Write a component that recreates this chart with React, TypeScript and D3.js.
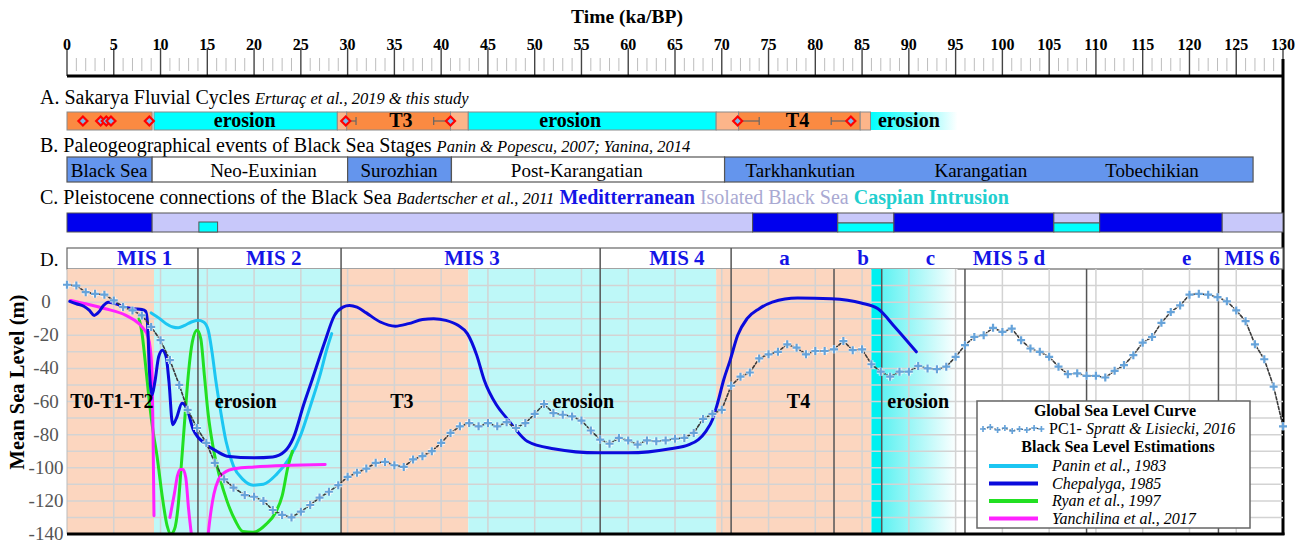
import React from "react";
import * as d3 from "d3";

const W = 1312;
const H = 544;
const SERIF = "Liberation Serif, Tinos, Times New Roman, Times, serif";

// Time axis (ka BP) and sea-level domain (m)
const TIME_DOMAIN: [number, number] = [0, 130];
const LEVEL_DOMAIN: [number, number] = [-140, 20];
const LEVEL_TICKS = [0, -20, -40, -60, -80, -100, -120, -140];

// Global sea level curve PC1 (Spratt & Lisiecki, 2016): [ka, m]
const pc1: [number, number][] = [
  [0, 10.5], [1, 10], [2, 6], [3, 5], [4, 4.5], [5, 1], [6, -3], [7, -5], [8, -8], [9, -15],
  [10, -23], [11, -35], [12, -50], [12.9, -65], [13.9, -76], [14.9, -85], [15.8, -97], [16.8, -107],
  [17.8, -112], [19, -116.5], [20, -117.5], [21, -120], [22, -125.5], [23, -128.5], [24, -130],
  [25, -126.5], [26, -122.5], [27, -118], [28, -114.5], [29, -110.5], [30, -105.5], [31, -103],
  [32, -100.5], [33, -97], [34, -96.5], [35, -98.5], [36, -99.5], [37, -95], [38, -93], [39, -90],
  [40, -85], [41, -79], [42, -75], [43, -73], [44, -75], [45, -73], [46, -75], [47, -72.5], [48, -76],
  [49, -73], [50, -67.5], [51, -61.5], [52, -67], [53, -68], [54, -69], [55, -71.5], [56, -77.5],
  [57, -83], [58, -85.5], [59, -82], [60, -83.5], [61, -86], [62, -83.5], [63, -84], [64, -83.5],
  [65, -82.5], [66, -82], [67, -79], [68, -70.5], [69, -67.5], [70, -65], [71, -50.5], [72, -45],
  [73, -42.5], [74, -34], [75, -31.5], [76, -30], [77, -25.5], [78, -27.5], [79, -31.5], [80, -29.5],
  [81, -29.5], [82, -28.5], [83, -23.5], [84, -29], [85, -28.5], [86, -37.5], [87, -42], [88, -45],
  [89, -42], [90, -42], [91, -38.5], [92, -40], [93, -40.5], [94, -39], [95, -33], [96, -26],
  [97, -21], [98, -20], [99, -15.5], [100, -18], [101, -16], [102, -23], [103, -28], [104, -30],
  [105, -33], [106, -39], [107, -43.5], [108, -43], [109, -44.5], [110, -44.5], [111, -45.5],
  [112, -41.5], [113, -38], [114, -32], [115, -24.5], [116, -21], [117, -12.5], [118, -6], [119, -2],
  [120, 4.5], [121, 5], [122, 4.5], [123, 3], [124, 0.5], [125, -5], [126, -11.5], [127, -25.5],
  [128, -34.5], [129, -51], [130, -75],
];

// Black Sea level estimations: [ka, m]
const panin: [number, number][] = [
  [9.0, -6.5], [9.8, -9.5], [10.6, -13], [11.3, -15], [11.9, -15.5], [12.6, -14], [13.3, -12],
  [14.0, -11], [14.6, -12], [15.1, -17], [15.5, -30], [15.9, -47], [16.4, -65], [17.0, -84],
  [17.8, -99], [18.8, -107], [19.9, -110.5], [21.0, -110], [22.4, -104], [23.8, -94], [25.0, -80],
  [26.0, -63], [27.0, -45], [27.8, -28], [28.3, -19],
];

const chepalyga: [number, number][] = [
  [0.3, 0.5], [1.0, -1], [1.8, -2.5], [2.4, -5], [2.9, -8], [3.4, -6], [3.9, -2], [4.4, 0],
  [5.2, -1], [6.2, -3], [7.2, -4], [8.0, -4.5], [8.4, -5.5], [8.6, -12], [8.8, -40], [9.1, -56],
  [9.4, -48], [9.8, -33], [10.2, -29], [10.6, -33], [10.9, -48], [11.3, -74], [11.7, -70],
  [12.3, -61], [12.8, -64], [13.5, -77], [14.9, -86], [16, -90], [17.1, -93], [20, -94], [22, -93.5],
  [23.3, -90], [24.2, -82], [25.3, -62], [26.2, -47], [27.5, -25], [28.6, -8], [29.5, -3],
  [30.2, -2], [31, -3], [32, -6.5], [33.5, -12], [35.1, -14.5], [36.5, -13], [38, -10.5],
  [39.2, -10], [40.5, -11], [41.8, -14], [42.8, -19], [43.8, -32], [44.6, -47], [45.9, -62],
  [47, -70], [47.7, -75], [49.2, -84], [52, -88.5], [56.8, -91], [60, -91], [64.5, -88.5],
  [66.5, -86], [67.5, -83], [68.3, -78], [69, -71], [69.6, -60], [70.2, -47], [70.9, -35],
  [71.7, -20], [72.7, -10], [74, -4], [75.4, 0], [78.1, 2.5], [81.7, 2], [84.9, -0.5], [86.7, -4],
  [88.5, -15], [90.8, -30],
];

const ryan: [number, number][] = [
  [7.7, -10], [8.0, -18], [8.4, -38], [8.8, -60], [9.2, -78], [9.6, -92], [10.2, -118],
  [10.7, -135], [11.1, -140], [11.5, -137], [11.9, -122], [12.2, -100], [12.6, -70], [13.0, -42],
  [13.4, -24], [13.9, -17], [14.3, -22], [14.7, -45], [15.1, -68], [15.6, -87], [16.3, -105],
  [17.1, -120], [18.0, -132], [18.8, -138.5], [19.9, -139], [21.3, -134], [22.3, -127],
  [23.0, -117], [23.6, -100], [24.1, -90],
];

const yanchilinaA: [number, number][] = [
  [0.4, 1], [2, -1], [4.1, -4], [6.3, -8], [7.7, -13], [8.3, -17], [8.6, -20], [8.9, -28],
  [9.1, -45], [9.2, -80], [9.3, -129],
];
const yanchilinaB: [number, number][] = [
  [11.0, -130], [11.5, -115], [11.8, -105], [12.1, -101], [12.4, -101], [12.7, -106],
  [13.0, -125], [13.4, -145],
];
const yanchilinaC: [number, number][] = [
  [15.0, -145], [15.3, -130], [15.7, -116], [16.2, -107], [16.8, -103], [18, -100.5],
  [20, -99.5], [24, -98.5], [27.6, -98],
];

// A. Sakarya fluvial cycles
const fluvialBlocks = [
  { from: 0, to: 9.1, kind: "terrace", label: "" },
  { from: 9.3, to: 28.9, kind: "erosion", label: "erosion" },
  { from: 28.9, to: 29.9, kind: "margin", label: "" },
  { from: 29.9, to: 41, kind: "terrace", label: "T3" },
  { from: 41, to: 42.9, kind: "margin", label: "" },
  { from: 42.9, to: 69.4, kind: "erosion", label: "erosion" },
  { from: 69.4, to: 71.8, kind: "margin", label: "" },
  { from: 71.8, to: 84.8, kind: "terrace", label: "T4" },
  { from: 84.8, to: 85.9, kind: "margin", label: "" },
  { from: 85.9, to: 95.2, kind: "fade", label: "erosion" },
];
const fluvialLabelAt = [0, 19, 0, 35.7, 0, 53.8, 0, 78.1, 0, 90];
const fluvialAges = [1.7, 3.6, 4.2, 4.7, 8.8, 29.8, 41, 71.7, 83.8];
const fluvialErrors: [number, number][] = [[29.8, 30.9], [39.2, 41], [71.7, 74], [81.7, 83.8]];

// B. Paleogeographical stages
const stages = [
  { from: 0, to: 9.1, label: "Black Sea", at: 4.5, marine: true },
  { from: 9.1, to: 30.0, label: "Neo-Euxinian", at: 21, marine: false },
  { from: 30.0, to: 41.1, label: "Surozhian", at: 35.5, marine: true },
  { from: 41.1, to: 70.3, label: "Post-Karangatian", at: 54.5, marine: false },
  { from: 70.3, to: 126.8, label: "", at: 0, marine: true },
];
const stageNames = ["Tarkhankutian", "Karangatian", "Tobechikian"];
const stageNameAt = [78.4, 97.7, 116];

// C. Pleistocene connections
const connections = [
  { from: 0, to: 9.1, state: "med" },
  { from: 9.1, to: 73.3, state: "iso" },
  { from: 73.3, to: 82.4, state: "med" },
  { from: 82.4, to: 88.4, state: "isocasp" },
  { from: 88.4, to: 105.5, state: "med" },
  { from: 105.5, to: 110.4, state: "isocasp" },
  { from: 110.4, to: 123.5, state: "med" },
  { from: 123.5, to: 130, state: "iso" },
];
const caspianPulse: [number, number] = [14.1, 16.1];

// D. Background phases and MIS
const phases = [
  { from: 0, to: 9.3, kind: "terrace" },
  { from: 9.3, to: 29.3, kind: "erosion" },
  { from: 29.3, to: 42.9, kind: "terrace" },
  { from: 42.9, to: 69.4, kind: "erosion" },
  { from: 69.4, to: 86, kind: "terrace" },
  { from: 86, to: 87.1, kind: "strong" },
];
const fadePhase: [number, number] = [87.1, 95.2];
const stageBoundaries = [14, 29.3, 57, 71, 82, 87.1, 96, 109, 123.1];
const misBoundaries = [14, 29.3, 57, 71, 123.1];
const misLabels = ["MIS 1", "MIS 2", "MIS 3", "MIS 4", "a", "b", "c", "MIS 5 d", "e", "MIS 6"];
const misLabelAt = [8.3, 22.1, 43.3, 65.2, 76.7, 85.1, 92.3, 100.7, 119.7, 126.7];
const phaseLabels = ["T0-T1-T2", "erosion", "T3", "erosion", "T4", "erosion"];
const phaseLabelAt = [4.8, 19.1, 35.8, 55.2, 78.2, 91];

const legendRefs = [
  { label: "Panin  et al., 1983", color: "#1cc6f2" },
  { label: "Chepalyga, 1985", color: "#0b0bdc" },
  { label: "Ryan et al., 1997", color: "#22e022" },
  { label: "Yanchilina et al., 2017", color: "#ff22ff" },
];
const legendPc1Wave = [0, -2, 1, -1, 2, 0, 1, -1, 0];

const x = d3.scaleLinear().domain(TIME_DOMAIN).range([67, 1283]);
const y = d3.scaleLinear().domain(LEVEL_DOMAIN).range([534, 269]);

const line = d3
  .line<[number, number]>()
  .x((d) => x(d[0]))
  .y((d) => y(d[1]))
  .curve(d3.curveMonotoneX);

const pc1Line = d3
  .line<[number, number]>()
  .x((d) => x(d[0]))
  .y((d) => y(d[1]));

const PLUS = "M-4,0H4M0,-4V4";

const colors = {
  terrace: "#fb8a42",
  margin: "#fcb58a",
  erosion: "#00ffff",
  stageBlue: "#6495ed",
  med: "#0000ee",
  iso: "#c8c8fa",
  casp: "#00ffff",
  bgTerrace: "#fcd6bf",
  bgErosion: "#bef8f8",
  bgStrong: "#00f0f0",
  grid: "#d3d3d3",
  divider: "#555",
};

function Plus({ cx, cy }: { cx: number; cy: number }) {
  return (
    <g transform={`translate(${cx},${cy})`}>
      <path d={PLUS} stroke="#fff" strokeWidth={4} opacity={0.8} />
      <path d={PLUS} stroke="#66a3da" strokeWidth={2.2} />
    </g>
  );
}

export default function App() {
  const top = 269;
  const bottom = 534;
  const left = x(0);
  const right = x(130);

  const majorTicks = d3.range(0, 131, 5);
  const minorTicks = d3.range(0, 131, 1).filter((t) => t % 5 !== 0);
  const gridX = d3.range(5, 130, 5);
  const gridY = d3.range(-130, 20, 10);

  const rowA = { y0: 112, y1: 130 };
  const rowB = { y0: 157, y1: 182 };
  const rowC = { y0: 213, y1: 232 };

  return (
    <svg
      width={W}
      height={H}
      viewBox={`0 0 ${W} ${H}`}
      style={{ position: "absolute", left: 0, top: 0, background: "#fff", fontFamily: SERIF }}
    >
      <defs>
        <linearGradient id="fadeA" x1="0" x2="1" y1="0" y2="0">
          <stop offset="0" stopColor="#00ffff" />
          <stop offset="0.55" stopColor="#7ffcfc" />
          <stop offset="1" stopColor="#ffffff" />
        </linearGradient>
        <linearGradient id="fadeD" x1="0" x2="1" y1="0" y2="0">
          <stop offset="0" stopColor="#5ff2f2" />
          <stop offset="0.5" stopColor="#aef8f8" />
          <stop offset="1" stopColor="#ffffff" />
        </linearGradient>
        <clipPath id="plotClip">
          <rect x={left} y={top} width={right - left} height={bottom - top} />
        </clipPath>
      </defs>

      {/* Time axis */}
      <text x={627} y={23} textAnchor="middle" fontWeight="bold" fontSize={19.5}>
        Time (ka/BP)
      </text>
      {minorTicks.map((t) => (
        <line key={`mi${t}`} x1={x(t)} x2={x(t)} y1={58} y2={71} stroke="#bdbdbd" strokeWidth={1} />
      ))}
      {majorTicks.map((t) => (
        <g key={`ma${t}`}>
          <line x1={x(t)} x2={x(t)} y1={48} y2={76} stroke="#444" strokeWidth={1.4} />
          <text x={x(t)} y={50} textAnchor="middle" fontWeight="bold" fontSize={16}>
            {t}
          </text>
        </g>
      ))}
      <line x1={left} x2={right} y1={76} y2={76} stroke="#000" strokeWidth={3} />
      <line x1={right} x2={right} y1={59} y2={535} stroke="#000" strokeWidth={3} />

      {/* A. Sakarya fluvial cycles */}
      <text x={40} y={104} fontSize={20}>
        A. Sakarya Fluvial Cycles{" "}
        <tspan fontStyle="italic" fontSize={16.5}>
          Erturaç et al., 2019 &amp; this study
        </tspan>
      </text>
      {fluvialBlocks.map((b, i) => (
        <rect
          key={`fa${i}`}
          x={x(b.from)}
          y={rowA.y0}
          width={x(b.to) - x(b.from)}
          height={rowA.y1 - rowA.y0}
          fill={b.kind === "fade" ? "url(#fadeA)" : (colors as any)[b.kind]}
          stroke={b.kind === "fade" ? "none" : "#8a8a8a"}
          strokeWidth={1}
        />
      ))}
      <line x1={x(85.9)} x2={x(85.9)} y1={rowA.y0} y2={rowA.y1} stroke="#8a8a8a" />
      {fluvialBlocks.map((b, i) =>
        b.label ? (
          <text
            key={`fl${i}`}
            x={x(fluvialLabelAt[i])}
            y={rowA.y1 - 3}
            textAnchor="middle"
            fontWeight="bold"
            fontSize={20}
          >
            {b.label}
          </text>
        ) : null
      )}
      {fluvialErrors.map(([a, b], i) => (
        <g key={`fe${i}`} stroke="#666" strokeWidth={1.2}>
          <line x1={x(a)} x2={x(b)} y1={121} y2={121} />
          <line x1={x(a)} x2={x(a)} y1={117} y2={125} />
          <line x1={x(b)} x2={x(b)} y1={117} y2={125} />
        </g>
      ))}
      {fluvialAges.map((a, i) => (
        <g key={`fm${i}`} transform={`translate(${x(a)},121)`}>
          <path d="M0,-4.5L4.5,0L0,4.5L-4.5,0Z" fill="#7ab8e8" stroke="#ff0000" strokeWidth={2.2} />
        </g>
      ))}

      {/* B. Paleogeographical events */}
      <text x={40} y={152} fontSize={20}>
        B. Paleogeographical events of Black Sea Stages{" "}
        <tspan fontStyle="italic" fontSize={16.5}>
          Panin &amp; Popescu, 2007; Yanina, 2014
        </tspan>
      </text>
      {stages.map((s, i) => (
        <rect
          key={`sb${i}`}
          x={x(s.from)}
          y={rowB.y0}
          width={x(s.to) - x(s.from)}
          height={rowB.y1 - rowB.y0}
          fill={s.marine ? colors.stageBlue : "#fff"}
          stroke="#555"
          strokeWidth={1.2}
        />
      ))}
      {stages.map((s, i) =>
        s.label ? (
          <text key={`sl${i}`} x={x(s.at)} y={176.5} textAnchor="middle" fontSize={19}>
            {s.label}
          </text>
        ) : null
      )}
      {stageNames.map((n, i) => (
        <text key={`sn${i}`} x={x(stageNameAt[i])} y={176.5} textAnchor="middle" fontSize={19}>
          {n}
        </text>
      ))}

      {/* C. Pleistocene connections */}
      <text x={40} y={204} fontSize={20}>
        C. Pleistocene connections of the Black Sea{" "}
        <tspan fontStyle="italic" fontSize={16.5}>
          Badertscher  et al., 2011
        </tspan>{" "}
        <tspan fontWeight="bold" fill="#1414e6" fontSize={20}>
          Meditterranean
        </tspan>{" "}
        <tspan fill="#a9a9d2" fontSize={20}>
          Isolated Black Sea
        </tspan>{" "}
        <tspan fontWeight="bold" fill="#22cfcf" fontSize={20}>
          Caspian Intrusion
        </tspan>
      </text>
      {connections.map((c, i) => {
        const xa = x(c.from);
        const w = x(c.to) - x(c.from);
        const mid = (rowC.y0 + rowC.y1) / 2 + 0.5;
        if (c.state === "isocasp") {
          return (
            <g key={`cn${i}`}>
              <rect x={xa} y={rowC.y0} width={w} height={mid - rowC.y0} fill={colors.iso} stroke="#555" />
              <rect x={xa} y={mid} width={w} height={rowC.y1 - mid} fill={colors.casp} stroke="#555" />
            </g>
          );
        }
        return (
          <rect
            key={`cn${i}`}
            x={xa}
            y={rowC.y0}
            width={w}
            height={rowC.y1 - rowC.y0}
            fill={c.state === "med" ? colors.med : colors.iso}
            stroke="#555"
          />
        );
      })}
      <rect
        x={x(caspianPulse[0])}
        y={222}
        width={x(caspianPulse[1]) - x(caspianPulse[0])}
        height={rowC.y1 - 222}
        fill={colors.casp}
        stroke="#555"
      />

      {/* D. Header with MIS */}
      <text x={40} y={266} fontSize={19}>
        D.
      </text>
      <rect x={left} y={248} width={right - left} height={top - 248} fill="#fff" stroke="#666" strokeWidth={1.2} />
      {misBoundaries.map((b) => (
        <line key={`mb${b}`} x1={x(b)} x2={x(b)} y1={248} y2={top} stroke="#555" strokeWidth={1.5} />
      ))}
      {misLabels.map((m, i) => (
        <text
          key={`ml${i}`}
          x={x(misLabelAt[i])}
          y={265}
          textAnchor="middle"
          fontWeight="bold"
          fontSize={21}
          fill="#1414e6"
        >
          {m}
        </text>
      ))}

      {/* D. Plot background */}
      {phases.map((p, i) => (
        <rect
          key={`ph${i}`}
          x={x(p.from)}
          y={top}
          width={x(p.to) - x(p.from)}
          height={bottom - top}
          fill={p.kind === "terrace" ? colors.bgTerrace : p.kind === "erosion" ? colors.bgErosion : colors.bgStrong}
        />
      ))}
      <rect
        x={x(fadePhase[0])}
        y={top}
        width={x(fadePhase[1]) - x(fadePhase[0])}
        height={bottom - top}
        fill="url(#fadeD)"
      />

      {/* Grid */}
      {gridX.map((t) => (
        <line key={`gx${t}`} x1={x(t)} x2={x(t)} y1={top} y2={bottom} stroke={colors.grid} strokeWidth={1.5} />
      ))}
      {gridY.map((v) => (
        <line key={`gy${v}`} x1={left} x2={right} y1={y(v)} y2={y(v)} stroke={colors.grid} strokeWidth={1.5} />
      ))}
      <line x1={left} x2={left} y1={top} y2={bottom} stroke="#bbb" strokeWidth={1} />
      {stageBoundaries.map((b) => (
        <line key={`sbd${b}`} x1={x(b)} x2={x(b)} y1={top} y2={bottom} stroke="#555" strokeWidth={1.5} />
      ))}

      {/* Y axis */}
      {LEVEL_TICKS.map((v) => (
        <text key={`yt${v}`} x={46} y={y(v) + 6} textAnchor="middle" fontSize={19} fill="#555">
          {v}
        </text>
      ))}
      <text
        transform={`translate(24,382) rotate(-90)`}
        textAnchor="middle"
        fontWeight="bold"
        fontSize={20.5}
      >
        Mean Sea Level  (m)
      </text>

      {/* Curves */}
      <g clipPath="url(#plotClip)" fill="none" strokeLinecap="round" strokeLinejoin="round">
        <path d={line(panin) || ""} stroke={legendRefs[0].color} strokeWidth={3} />
        <path d={line(ryan) || ""} stroke={legendRefs[2].color} strokeWidth={3} />
        <path d={line(yanchilinaA) || ""} stroke={legendRefs[3].color} strokeWidth={3} />
        <path d={line(yanchilinaB) || ""} stroke={legendRefs[3].color} strokeWidth={3} />
        <path d={line(yanchilinaC) || ""} stroke={legendRefs[3].color} strokeWidth={3} />
        <path d={line(chepalyga) || ""} stroke={legendRefs[1].color} strokeWidth={3} />
        <path d={pc1Line(pc1) || ""} stroke="#3a3a3a" strokeWidth={1.6} strokeDasharray="3,2" />
      </g>
      <g>
        {pc1.map(([t, v], i) => (
          <Plus key={`pc${i}`} cx={x(t)} cy={y(v)} />
        ))}
      </g>

      {/* Phase labels */}
      {phaseLabels.map((l, i) => (
        <text
          key={`pl${i}`}
          x={x(phaseLabelAt[i])}
          y={408}
          textAnchor="middle"
          fontWeight="bold"
          fontSize={20}
        >
          {l}
        </text>
      ))}

      {/* Legend */}
      <rect x={977} y={401} width={273} height={127} fill="#fff" stroke="#666" strokeWidth={1.5} />
      <text x={1115} y={416} textAnchor="middle" fontWeight="bold" fontSize={16}>
        Global Sea Level Curve
      </text>
      <path
        d={
          d3
            .line<number>()
            .x((_, i) => 983 + i * 7.3)
            .y((d) => 429 + d)(legendPc1Wave) || ""
        }
        fill="none"
        stroke="#3a3a3a"
        strokeWidth={1.2}
        strokeDasharray="2,2"
      />
      {legendPc1Wave.map((d, i) => (
        <g key={`lw${i}`} transform={`translate(${983 + i * 7.3},${429 + d}) scale(0.75)`}>
          <path d={PLUS} stroke="#66a3da" strokeWidth={2.2} />
        </g>
      ))}
      <text x={1049} y={434} fontSize={16}>
        PC1- <tspan fontStyle="italic">Spratt &amp; Lisiecki, 2016</tspan>
      </text>
      <text x={1118} y={452} textAnchor="middle" fontWeight="bold" fontSize={16}>
        Black Sea Level Estimations
      </text>
      {legendRefs.map((r, i) => (
        <g key={`lg${i}`}>
          <line x1={989} x2={1038} y1={466 + i * 17.5} y2={466 + i * 17.5} stroke={r.color} strokeWidth={4} />
          <text x={1052} y={471 + i * 17.5} fontStyle="italic" fontSize={16}>
            {r.label}
          </text>
        </g>
      ))}

      {/* Bottom frame */}
      <line x1={left} x2={right + 1.5} y1={bottom} y2={bottom} stroke="#000" strokeWidth={3} />
    </svg>
  );
}
